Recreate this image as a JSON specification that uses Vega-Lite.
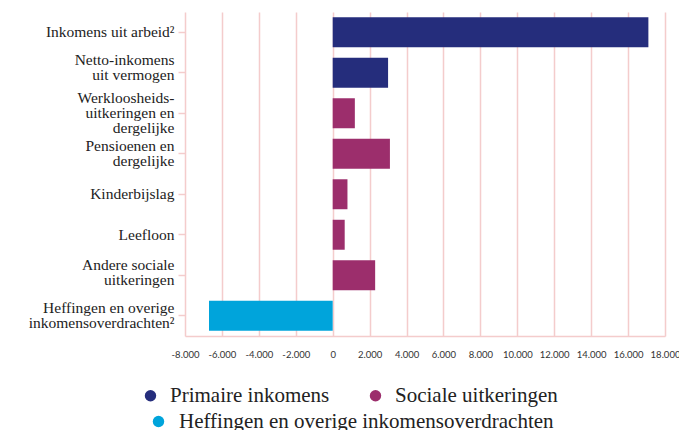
{
  "$schema": "https://vega.github.io/schema/vega-lite/v6.json",
  "width": 480,
  "height": 324,
  "autosize": {"type": "none"},
  "padding": {"left": 185, "top": 12, "right": 14, "bottom": 94},
  "background": "white",
  "data": {
    "values": [
      {"cat": "Inkomens uit arbeid²", "value": 17100, "group": "Primaire inkomens"},
      {"cat": "Netto-inkomens|uit vermogen", "value": 3000, "group": "Primaire inkomens"},
      {"cat": "Werkloosheids-|uitkeringen en|dergelijke", "value": 1200, "group": "Sociale uitkeringen"},
      {"cat": "Pensioenen en|dergelijke", "value": 3100, "group": "Sociale uitkeringen"},
      {"cat": "Kinderbijslag", "value": 800, "group": "Sociale uitkeringen"},
      {"cat": "Leefloon", "value": 650, "group": "Sociale uitkeringen"},
      {"cat": "Andere sociale|uitkeringen", "value": 2300, "group": "Sociale uitkeringen"},
      {"cat": "Heffingen en overige|inkomensoverdrachten²", "value": -6700, "group": "Heffingen en overige inkomensoverdrachten"}
    ]
  },
  "encoding": {
    "y": {
      "field": "cat",
      "type": "nominal",
      "sort": null,
      "scale": {
        "domain": ["Inkomens uit arbeid²", "Netto-inkomens|uit vermogen", "Werkloosheids-|uitkeringen en|dergelijke", "Pensioenen en|dergelijke", "Kinderbijslag", "Leefloon", "Andere sociale|uitkeringen", "Heffingen en overige|inkomensoverdrachten²"],
        "paddingInner": 0.26,
        "paddingOuter": 0.13
      },
      "axis": {
        "title": null,
        "labelExpr": "split(datum.label, '|')",
        "domain": false,
        "ticks": true,
        "tickColor": "#f4cccc",
        "tickSize": 7,
        "tickWidth": 1.5,
        "labelPadding": 4,
        "labelFont": "Liberation Serif",
        "labelFontSize": 15.5,
        "labelColor": "#222222",
        "labelLineHeight": 15,
        "labelLimit": 0,
        "grid": false,
        "labelOffset": {
          "condition": [
            {"test": "datum.value === 'Netto-inkomens|uit vermogen'", "value": -13},
            {"test": "datum.value === 'Andere sociale|uitkeringen'", "value": -10},
            {"test": "length(split(datum.value, '|')) == 3", "value": -15},
            {"test": "length(split(datum.value, '|')) == 2", "value": -7.5}
          ],
          "value": 0
        }
      }
    },
    "x": {
      "field": "value",
      "type": "quantitative",
      "scale": {"domain": [-8000, 18000], "nice": false},
      "axis": {
        "title": null,
        "values": [-8000, -6000, -4000, -2000, 0, 2000, 4000, 6000, 8000, 10000, 12000, 14000, 16000, 18000],
        "labelExpr": "replace(replace(format(datum.value, ','), ',', '.'), '−', '-')",
        "grid": true,
        "gridColor": "#f4cccc",
        "gridWidth": 1.5,
        "ticks": false,
        "domainColor": "#f4cccc",
        "domainWidth": 1.5,
        "labelFlush": false,
        "labelFont": "Lato",
        "labelFontSize": 9.5,
        "labelColor": "#333333",
        "labelPadding": 13
      }
    }
  },
  "layer": [
    {
      "transform": [{"filter": "datum.group !== 'Heffingen en overige inkomensoverdrachten'"}],
      "mark": {"type": "bar"},
      "encoding": {
        "color": {
          "field": "group",
          "type": "nominal",
          "scale": {
            "domain": ["Primaire inkomens", "Sociale uitkeringen"],
            "range": ["#252d7c", "#9c2e6c"]
          },
          "legend": {
            "title": null,
            "orient": "none",
            "legendX": -45,
            "legendY": 373,
            "direction": "horizontal",
            "symbolType": "circle",
            "symbolSize": 130,
            "symbolOpacity": 1,
            "labelFont": "Liberation Serif",
            "labelFontSize": 21,
            "labelColor": "#222222",
            "labelLimit": 0,
            "labelOffset": 9,
            "columnPadding": 35,
            "padding": 0
          }
        }
      }
    },
    {
      "transform": [{"filter": "datum.group === 'Heffingen en overige inkomensoverdrachten'"}],
      "mark": {"type": "bar"},
      "encoding": {
        "fill": {
          "field": "group",
          "type": "nominal",
          "scale": {
            "domain": ["Heffingen en overige inkomensoverdrachten"],
            "range": ["#00a4db"]
          },
          "legend": {
            "title": null,
            "orient": "none",
            "legendX": -37,
            "legendY": 399,
            "direction": "horizontal",
            "symbolType": "circle",
            "symbolSize": 130,
            "symbolOpacity": 1,
            "labelFont": "Liberation Serif",
            "labelFontSize": 21,
            "labelColor": "#222222",
            "labelLimit": 0,
            "labelOffset": 10,
            "padding": 0
          }
        }
      }
    }
  ],
  "config": {"view": {"stroke": null}}
}
